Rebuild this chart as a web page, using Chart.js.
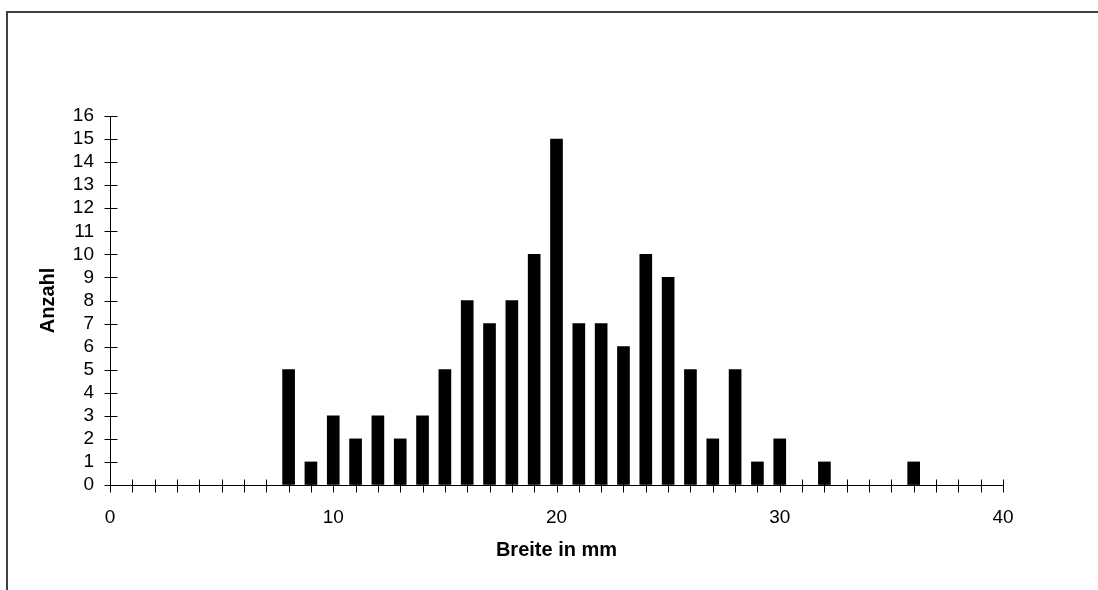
<!DOCTYPE html>
<html>
<head>
<meta charset="utf-8">
<script src="https://cdn.jsdelivr.net/npm/chart.js@4"></script>
<style>
  html, body { margin: 0; padding: 0; background: #fff; }
  #wrap { width: 1098px; height: 590px; position: relative; }
</style>
</head>
<body>
<div id="wrap"><canvas id="myChart" width="1098" height="590"></canvas></div>
<script>
/* globals Chart:false */

// Breite in mm (x) and Anzahl (y)
var breite = [8, 9, 10, 11, 12, 13, 14, 15, 16, 17, 18, 19, 20, 21, 22, 23, 24, 25, 26, 27, 28, 29, 30, 32, 36];
var anzahl = [5, 1, 3, 2, 3, 2, 3, 5, 8, 7, 8, 10, 15, 7, 7, 6, 10, 9, 5, 2, 5, 1, 2, 1, 1];
var xLabels = [0, 10, 20, 30, 40];

var font = "'Liberation Sans', Arial, sans-serif";

// frame line of the chart object (top and left edge)
var framePlugin = {
    id: 'frame',
    beforeDraw: function (chart) {
        var c = chart.ctx;
        c.save();
        c.strokeStyle = '#404040';
        c.lineWidth = 2;
        c.beginPath();
        c.moveTo(7, 600);
        c.lineTo(7, 12);
        c.lineTo(1110, 12);
        c.stroke();
        c.restore();
    }
};

// cross tick marks on both axes
var crossTicks = {
    id: 'crossTicks',
    afterDraw: function (chart) {
        var c = chart.ctx;
        var x = chart.scales.x, y = chart.scales.y;
        var ax = Math.round(x.left) + 0.5;
        var ay = Math.round(y.bottom) + 0.5;
        c.save();
        c.strokeStyle = '#000';
        c.lineWidth = 1;
        c.beginPath();
        y.ticks.forEach(function (t) {
            var py = Math.round(y.getPixelForValue(t.value)) + 0.5;
            c.moveTo(ax - 6, py);
            c.lineTo(ax + 7, py);
        });
        x.ticks.forEach(function (t) {
            var px = Math.round(x.getPixelForValue(t.value)) + 0.5;
            c.moveTo(px, ay - 6);
            c.lineTo(px, ay + 7);
        });
        c.stroke();
        c.restore();
    }
};

var ctx = document.getElementById('myChart');
var myChart = new Chart(ctx, {
    type: 'bar',
    data: {
        datasets: [{
            label: 'Anzahl',
            data: breite.map(function (b, i) { return { x: b, y: anzahl[i] }; }),
            backgroundColor: '#000',
            borderColor: '#000',
            borderWidth: 0,
            barThickness: 12
        }]
    },
    options: {
        responsive: false,
        animation: false,
        layout: { padding: { left: 0, right: 95, top: 116, bottom: 0 } },
        plugins: {
            legend: { display: false },
            tooltip: { enabled: false }
        },
        scales: {
            x: {
                type: 'linear',
                min: 0,
                max: 40,
                offset: false,
                grid: { drawOnChartArea: false, drawTicks: false },
                border: { color: '#000', width: 1 },
                ticks: {
                    stepSize: 1,
                    autoSkip: false,
                    maxRotation: 0,
                    padding: 21,
                    color: '#000',
                    font: { family: font, size: 19 },
                    callback: function (v) { return xLabels.indexOf(v) >= 0 ? String(v) : ''; }
                },
                title: {
                    display: true,
                    text: 'Breite in mm',
                    color: '#000',
                    font: { family: font, size: 20, weight: 'bold' },
                    padding: { top: 0, bottom: 28 }
                },
                afterFit: function (s) { s.height = 105; }
            },
            y: {
                min: 0,
                max: 16,
                grid: { drawOnChartArea: false, drawTicks: false },
                border: { color: '#000', width: 1 },
                ticks: {
                    stepSize: 1,
                    autoSkip: false,
                    padding: 16,
                    color: '#000',
                    font: { family: font, size: 19 }
                },
                title: {
                    display: true,
                    text: 'Anzahl',
                    color: '#000',
                    font: { family: font, size: 20, weight: 'bold' },
                    padding: { top: 36, bottom: 0 }
                },
                afterFit: function (s) { s.width = 110; }
            }
        }
    },
    plugins: [framePlugin, crossTicks]
});
</script>
</body>
</html>
